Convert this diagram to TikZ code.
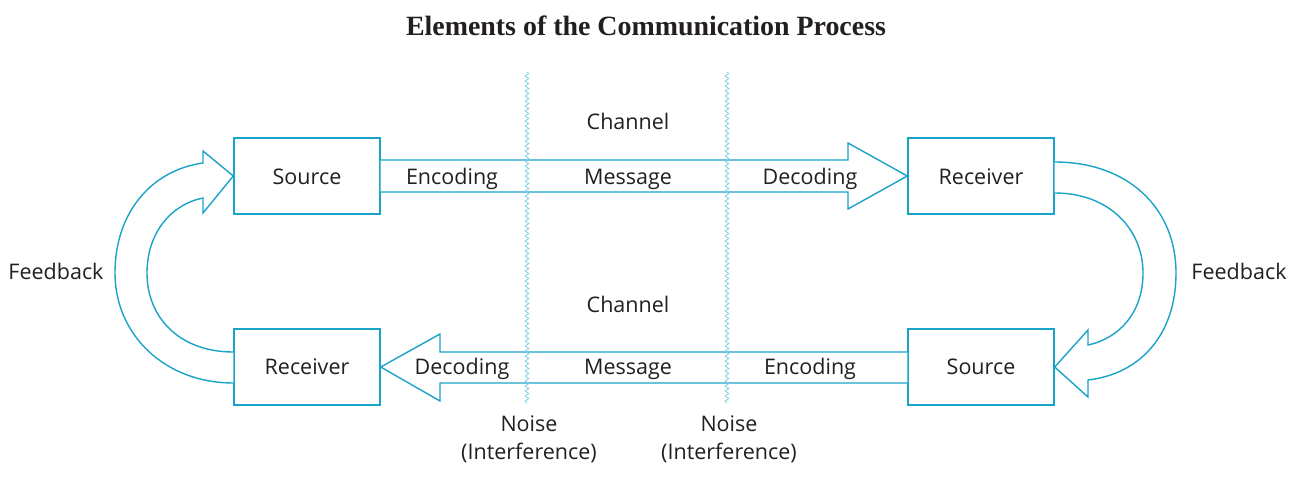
\documentclass[tikz,border=0pt]{standalone}
\usepackage{fontspec}
\setmainfont{Open Sans}
\newfontfamily\titlefont{Liberation Serif}
\usetikzlibrary{calc,decorations.pathmorphing}
\definecolor{flow}{HTML}{1AA3C8}
\definecolor{wave}{HTML}{7CCFE6}
\definecolor{ink}{HTML}{231F20}
\begin{document}
\begin{tikzpicture}[x=1pt,y=-1pt,
  box/.style={draw=flow,line width=1.4pt,minimum width=146pt,minimum height=76pt,inner sep=0pt},
  lbl/.style={font=\fontsize{21.5}{28}\selectfont,text=ink,inner sep=0pt,anchor=base},
  blockarrow/.style={draw=flow,line width=1.4pt,fill=white,line join=miter},
  noise/.style={draw=wave,line width=0.8pt,decorate,decoration={snake,segment length=5pt,amplitude=1.8pt}}]
\useasboundingbox (0,0) rectangle (1289,484);

% title
\node[font=\titlefont\bfseries\fontsize{27.9}{32}\selectfont,text=ink,anchor=base,inner sep=0pt] (title) at (646,36) {Elements of the Communication Process};

% the four participants
\node[box] (srcT) at (307,176) {};
\node[box] (rcvT) at (981,176) {};
\node[box] (rcvB) at (307,367) {};
\node[box] (srcB) at (981,367) {};
\node[lbl] (srcTt) at (307,184) {Source};
\node[lbl] (rcvTt) at (981,184) {Receiver};
\node[lbl] (rcvBt) at (307,374) {Receiver};
\node[lbl] (srcBt) at (981,374) {Source};

% forward channel: source to receiver
\draw[blockarrow] ($(srcT.east)+(0,-16)$) -- (848,160) -- (848,143) -- (rcvT.west)
  -- (848,209) -- (848,192) -- ($(srcT.east)+(0,16)$);

% return channel: source to receiver
\draw[blockarrow] ($(srcB.west)+(0,-15)$) -- (440,352) -- (440,334) -- (rcvB.east)
  -- (440,401) -- (440,383) -- ($(srcB.west)+(0,16)$);

% feedback loops
\draw[blockarrow] ($(rcvB.west)+(0,16)$) .. controls (165,383) and (115,335) .. (115,273)
  .. controls (115,212) and (152,170) .. (203,163) -- (203,151) -- (srcT.west)
  -- (203,213) -- (203,198) .. controls (172,204) and (147,232) .. (147,273)
  .. controls (147,318) and (180,352) .. ($(rcvB.west)+(0,-15)$);
\draw[blockarrow] ($(rcvT.east)+(0,-14)$) .. controls (1128,162) and (1176,208) .. (1176,273)
  .. controls (1176,335) and (1140,374) .. (1088,380) -- (1088,397) -- (srcB.east)
  -- (1088,330) -- (1088,345) .. controls (1120,338) and (1143,312) .. (1143,273)
  .. controls (1143,230) and (1110,193) .. ($(rcvT.east)+(0,17)$);

% noise (interference) lines across the channel
\coordinate (n1top) at (527,72);
\coordinate (n1bot) at (527,403);
\coordinate (n2top) at (727,72);
\coordinate (n2bot) at (727,403);
\draw[noise] (n1top) -- (n1bot);
\draw[noise] (n2top) -- (n2bot);

% labels on the channels
\node[lbl] (chT) at (628,129) {Channel};
\node[lbl] (encT) at (452,184) {Encoding};
\node[lbl] (msgT) at (628,184) {Message};
\node[lbl] (decT) at (810,184) {Decoding};
\node[lbl] (chB) at (628,312) {Channel};
\node[lbl] (decB) at (462,374) {Decoding};
\node[lbl] (msgB) at (628,374) {Message};
\node[lbl] (encB) at (810,374) {Encoding};
\node[lbl] (fbL) at (56,279) {Feedback};
\node[lbl] (fbR) at (1239,279) {Feedback};
\node[lbl] (noise1) at (529,431) {Noise};
\node[lbl] (intf1) at (529,459) {(Interference)};
\node[lbl] (noise2) at (729,431) {Noise};
\node[lbl] (intf2) at (729,459) {(Interference)};
\end{tikzpicture}
\end{document}
